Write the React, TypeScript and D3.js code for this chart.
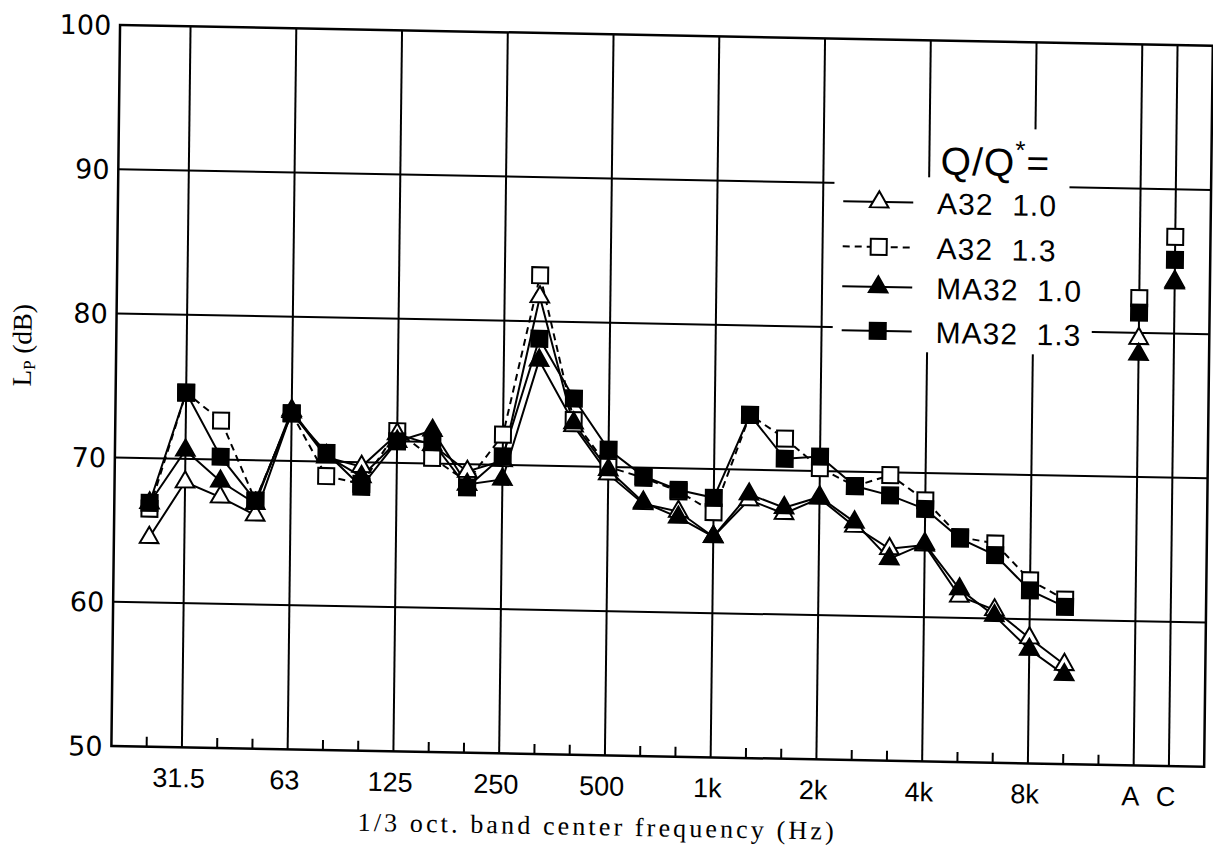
import React, { useRef, useEffect } from "react";
import * as d3 from "d3";

// 1/3 octave band centres (Hz), then overall A / C weighted levels
const bands = ["25", "31.5", "40", "50", "63", "80", "100", "125", "160", "200", "250", "315", "400", "500", "630", "800", "1k", "1.25k", "1.6k", "2k", "2.5k", "3.15k", "4k", "5k", "6.3k", "8k", "10k"];
const overallLevels = ["A", "C"];
const xSlots = [...bands, "12.5k", ...overallLevels];
const gridSlots = ["31.5", "63", "125", "250", "500", "1k", "2k", "4k", "8k", "A", "C"];
const yTicks = [50, 60, 70, 80, 90, 100];
const yGrid = [60, 70, 80, 90];

// Lp (dB)
const a32_10 = [64.5, 68.4, 67.4, 66.2, 73.4, 70.3, 69.7, 72.0, 71.3, 69.5, 70.3, 81.7, 72.8, 69.5, 67.5, 67.0, 65.3, 67.9, 67.0, 68.1, 66.2, 64.7, 65.0, 61.5, 60.6, 58.7, 56.9];
const a32_10AC = [79.6, 83.6];
const a32_13 = [66.5, 74.6, 72.7, 67.2, 73.3, 69.0, 68.5, 72.2, 70.4, 68.8, 72.1, 83.2, 73.2, 70.0, 69.3, 68.4, 67.0, 73.8, 72.2, 70.2, 69.0, 69.8, 68.1, 65.6, 65.2, 62.7, 61.4];
const a32_13AC = [82.4, 86.7];
const ma32_10 = [66.9, 70.6, 68.5, 67.0, 73.5, 70.4, 69.0, 71.5, 72.3, 68.6, 69.0, 77.3, 73.0, 69.8, 67.6, 66.6, 65.3, 68.3, 67.4, 68.2, 66.5, 64.0, 65.1, 62.0, 60.2, 57.9, 56.2];
const ma32_10AC = [78.5, 83.5];
const ma32_13 = [66.9, 74.6, 70.2, 67.2, 73.3, 70.6, 68.3, 71.5, 71.5, 68.4, 70.6, 78.8, 74.7, 71.2, 69.4, 68.5, 68.0, 73.8, 70.8, 71.0, 69.0, 68.4, 67.5, 65.5, 64.4, 62.0, 60.9];
const ma32_13AC = [81.4, 85.1];

const legendNames = ["A32  1.0", "A32  1.3", "MA32  1.0", "MA32  1.3"];

const W = 1213;
const H = 849;

type Series = {
  name: string;
  values: number[];
  overall: number[];
  shape: "triangle" | "square";
  filled: boolean;
  dash: string | null;
};

const series: Series[] = [
  { name: legendNames[0], values: a32_10, overall: a32_10AC, shape: "triangle", filled: false, dash: null },
  { name: legendNames[1], values: a32_13, overall: a32_13AC, shape: "square", filled: false, dash: "7,5" },
  { name: legendNames[2], values: ma32_10, overall: ma32_10AC, shape: "triangle", filled: true, dash: null },
  { name: legendNames[3], values: ma32_13, overall: ma32_13AC, shape: "square", filled: true, dash: null },
];

// marker stacking seen in the scan: open squares at the bottom, filled triangles on top
const markerOrder = [1, 0, 3, 2];

const App = () => {
  const svgRef = useRef<SVGSVGElement>(null);

  useEffect(() => {
    const svg = d3.select(svgRef.current);
    svg.selectAll("*").remove();

    svg.append("rect").attr("width", W).attr("height", H).attr("fill", "white");

    // the scanned page is slightly skewed
    const g = svg.append("g").attr("transform", "matrix(1,0.019,-0.012,1,5.5,-2.2)");

    const x = d3
      .scalePoint<string>()
      .domain(xSlots)
      .range([150.1, 150.1 + (xSlots.length - 1) * 35.25]);
    const step = x.step();
    const left = (x(xSlots[0]) as number) - step;
    const right = (x(xSlots[xSlots.length - 1]) as number) + step;

    const y = d3.scaleLinear().domain([50, 100]).range([746, 25]);

    const sym = (shape: string) =>
      d3
        .symbol()
        .type(shape === "triangle" ? d3.symbolTriangle : d3.symbolSquare)
        .size(shape === "triangle" ? 150 : 256)();

    // grid
    const grid = g.append("g").attr("stroke", "#000").attr("stroke-width", 2);
    grid
      .selectAll("line.v")
      .data(gridSlots)
      .join("line")
      .attr("class", "v")
      .attr("x1", (d) => x(d) as number)
      .attr("x2", (d) => x(d) as number)
      .attr("y1", y(100))
      .attr("y2", y(50));
    grid
      .selectAll("line.h")
      .data(yGrid)
      .join("line")
      .attr("class", "h")
      .attr("x1", left)
      .attr("x2", right)
      .attr("y1", (d) => y(d))
      .attr("y2", (d) => y(d));

    // minor ticks at the other bands
    grid
      .selectAll("line.m")
      .data(xSlots.filter((s) => !gridSlots.includes(s)))
      .join("line")
      .attr("class", "m")
      .attr("x1", (d) => x(d) as number)
      .attr("x2", (d) => x(d) as number)
      .attr("y1", y(50))
      .attr("y2", y(50) - 10);

    // legend blanks out the grid behind it
    g.append("rect").attr("x", 831).attr("y", 162).attr("width", 235).attr("height", 175).attr("fill", "white");
    g.append("rect").attr("x", 1060).attr("y", 298).attr("width", 30).attr("height", 39).attr("fill", "white");
    g.append("rect").attr("x", 935).attr("y", 112).attr("width", 131).attr("height", 52).attr("fill", "white");

    // frame
    g.append("rect")
      .attr("x", left)
      .attr("y", y(100))
      .attr("width", right - left)
      .attr("height", y(50) - y(100))
      .attr("fill", "none")
      .attr("stroke", "#000")
      .attr("stroke-width", 2.5);

    // series lines
    const line = d3
      .line<number>()
      .x((_, i) => x(bands[i]) as number)
      .y((d) => y(d));

    series.forEach((s) => {
      g.append("path")
        .attr("d", line(s.values))
        .attr("fill", "none")
        .attr("stroke", "#000")
        .attr("stroke-width", 2)
        .attr("stroke-dasharray", s.dash ?? null);
    });

    // markers
    markerOrder.forEach((k) => {
      const s = series[k];
      const pts = [
        ...s.values.map((v, i) => ({ slot: bands[i], v })),
        ...s.overall.map((v, i) => ({ slot: overallLevels[i], v })),
      ];
      g.append("g")
        .selectAll("path")
        .data(pts)
        .join("path")
        .attr("d", sym(s.shape))
        .attr("transform", (d) => `translate(${x(d.slot)},${y(d.v)})`)
        .attr("fill", s.filled ? "#000" : "#fff")
        .attr("stroke", "#000")
        .attr("stroke-width", 2);
    });

    // y tick labels
    g.append("g")
      .selectAll("text")
      .data(yTicks)
      .join("text")
      .attr("x", 106)
      .attr("y", (d) => y(d) + 10)
      .attr("text-anchor", "end")
      .attr("font-family", "DejaVu Sans, sans-serif")
      .attr("font-size", 27)
      .attr("fill", "#000")
      .text((d) => d);

    // x tick labels
    g.append("g")
      .selectAll("text")
      .data(gridSlots)
      .join("text")
      .attr("x", (d) => (x(d) as number) - 3)
      .attr("y", 786)
      .attr("text-anchor", "middle")
      .attr("font-family", "Liberation Sans, Arial, sans-serif")
      .attr("font-size", 27)
      .attr("fill", "#000")
      .text((d) => d);

    // axis titles
    g.append("text")
      .attr("x", 600)
      .attr("y", 826)
      .attr("text-anchor", "middle")
      .attr("font-family", "Liberation Serif, serif")
      .attr("font-size", 26)
      .attr("textLength", 476)
      .attr("lengthAdjust", "spacing")
      .attr("fill", "#000")
      .text("1/3 oct. band center frequency (Hz)");

    const yt = g
      .append("text")
      .attr("transform", "translate(30,347) rotate(-90)")
      .attr("text-anchor", "middle")
      .attr("font-family", "Liberation Serif, serif")
      .attr("font-size", 27)
      .attr("fill", "#000");
    yt.append("tspan").text("L");
    yt.append("tspan").attr("font-size", 17).attr("dy", 4).text("P");
    yt.append("tspan").attr("dy", -4).text(" (dB)");

    // legend
    const title = g
      .append("text")
      .attr("x", 937)
      .attr("y", 159)
      .attr("font-family", "Liberation Sans, Arial, sans-serif")
      .attr("font-size", 39)
      .attr("letter-spacing", 1)
      .attr("fill", "#000");
    title.append("tspan").text("Q/Q");
    title.append("tspan").attr("font-size", 26).attr("dy", -17).text("*");
    title.append("tspan").attr("dy", 17).text("=");

    const rowY = [187.5, 232.5, 272.5, 316.5];
    series.forEach((s, i) => {
      const row = g.append("g").attr("transform", `translate(0,${rowY[i]})`);
      row.append("line")
        .attr("x1", 840)
        .attr("x2", 910)
        .attr("stroke", "#000")
        .attr("stroke-width", 2)
        .attr("stroke-dasharray", s.dash ?? null);
      row.append("path")
        .attr("d", sym(s.shape))
        .attr("transform", "translate(876,0)")
        .attr("fill", s.filled ? "#000" : "#fff")
        .attr("stroke", "#000")
        .attr("stroke-width", 2);
      row.append("text")
        .attr("x", 934)
        .attr("y", 11)
        .attr("font-family", "Liberation Sans, Arial, sans-serif")
        .attr("font-size", 30)
        .attr("letter-spacing", 1)
        .style("white-space", "pre")
        .attr("fill", "#000")
        .text(s.name);
    });
  }, []);

  return (
    <svg
      ref={svgRef}
      width={W}
      height={H}
      style={{ position: "absolute", left: 0, top: 0, display: "block" }}
    />
  );
};

export default App;
